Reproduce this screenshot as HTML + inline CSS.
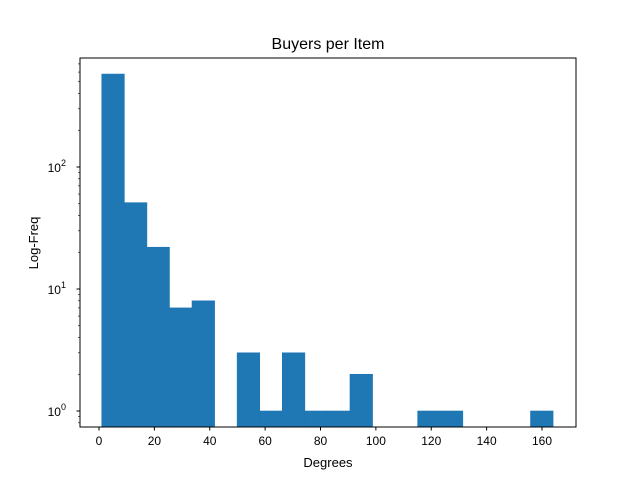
<!DOCTYPE html>
<html><head><meta charset="utf-8"><style>
body{margin:0;background:#fff;}
svg text{font-family:"Liberation Sans","DejaVu Sans",sans-serif;fill:#000;}
</style></head><body>
<svg id="c" width="640" height="480" viewBox="0 0 640 480">
<rect width="640" height="480" fill="#fff"/>
<text x="328" y="49" font-size="16" text-anchor="middle">Buyers per Item</text>
<g id="bars"></g>
<g id="xt"></g><g id="yt"></g>
<rect x="80" y="58" width="496" height="369" fill="none" stroke="#000" stroke-width="1"/>
<text x="328" y="467" font-size="13" text-anchor="middle">Degrees</text>
<text x="38" y="243" font-size="13" text-anchor="middle" transform="rotate(-90 38 243)">Log-Freq</text>
</svg>
<script>
const binStart = 1;
const binEnd = 164;
const counts = [578, 51, 22, 7, 8, 0, 3, 1, 3, 1, 1, 2, 0, 0, 1, 1, 0, 0, 0, 1];
const xTicks = [0, 20, 40, 60, 80, 100, 120, 140, 160];
const yTicks = [0, 1, 2];
const NS = "http://www.w3.org/2000/svg";
const X0 = 99, XS = (542 - 99) / 160;
const fx = v => X0 + v * XS;
const fy = v => 411 - Math.log10(v) * 122;
function mk(t, a, p) { const e = document.createElementNS(NS, t); for (const k in a) e.setAttribute(k, a[k]); p.appendChild(e); return e; }
const bars = document.getElementById('bars');
const w = (binEnd - binStart) / counts.length;
counts.forEach((c, i) => {
  if (c <= 0) return;
  const x1 = fx(binStart + i * w), x2 = fx(binStart + (i + 1) * w);
  const r = mk('rect', { x: x1, y: fy(c), width: x2 - x1, height: 427 - fy(c), fill: '#1f77b4', stroke: '#1f77b4', 'stroke-width': 0.6 }, bars);
  
  
});
const xt = document.getElementById('xt');
xTicks.forEach(v => {
  mk('line', { x1: fx(v), x2: fx(v), y1: 427, y2: 430.5, stroke: '#000' }, xt);
  const t = mk('text', { x: fx(v), y: 445, 'font-size': 12, 'text-anchor': 'middle' }, xt);
  t.textContent = v;
  
  
});
const yt = document.getElementById('yt');
yTicks.forEach(p => {
  const y = fy(Math.pow(10, p));
  mk('line', { x1: 76.5, x2: 80, y1: y, y2: y, stroke: '#000' }, yt);
  const t = mk('text', { x: 66, y: y + 5, 'font-size': 12, 'text-anchor': 'end' }, yt);
  t.innerHTML = '10<tspan dy="-6" font-size="9">' + p + '</tspan>';
  
  
});
for (let p = -1; p <= 2; p++) for (let m = 2; m <= 9; m++) {
  const y = fy(m * Math.pow(10, p));
  if (y < 58 || y > 427) continue;
  mk('line', { x1: 78, x2: 80, y1: y, y2: y, stroke: '#000', 'stroke-width': 0.6 }, yt);
}
</script>
</body></html>
